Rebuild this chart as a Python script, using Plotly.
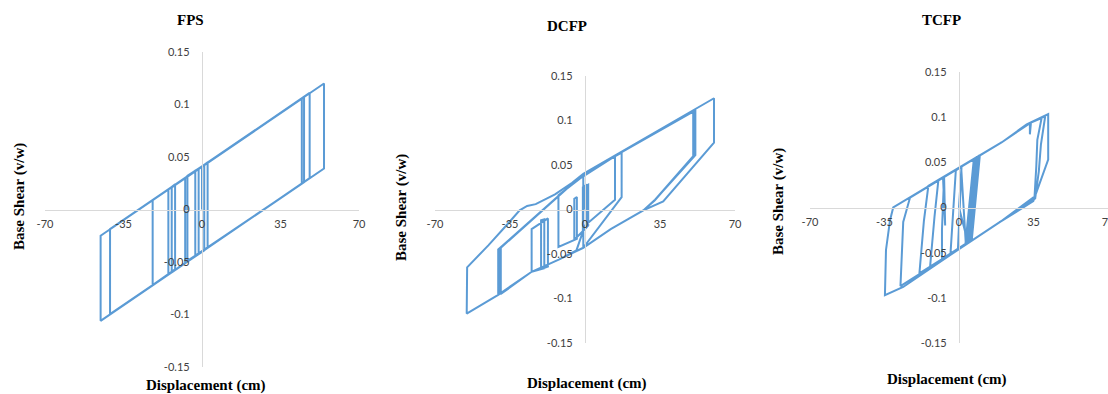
import plotly.graph_objects as go

# ---------------- data ----------------
x_ticks = [-70, -35, 0, 35, 70]
x_tick_text = ["-70", "-35", "0", "35", "70"]
y_ticks = [-0.15, -0.1, -0.05, 0, 0.05, 0.1, 0.15]
y_tick_text = ["-0.15", "-0.1", "-0.05", "0", "0.05", "0.1", "0.15"]

fps_x = [0, 0, 2.5, 2.5, -3, -3, 1, 1, -7.5, -7.5, -1.5, -1.5, -15, -15, -12, -12,
         -22, -22, 54.4, 54.4, -45.2, -45.2, 45.5, 45.5, -41, -41, 48, 48,
         -13.5, -13.5, 44.5, 44.5, -6.5, -6.5, 0, 0]
fps_y = [0, 0.041, 0.045, -0.036, -0.044, 0.037, 0.042, -0.039, -0.051, 0.030, 0.039, -0.042,
         -0.062, 0.019, 0.024, -0.057, -0.072, 0.009, 0.120, 0.039, -0.106, -0.025, 0.107, 0.026,
         -0.0995, -0.0185, 0.111, 0.030, -0.060, 0.021, 0.1055, 0.0245, -0.049, 0.032, 0.041, 0.0]

dcfp_x = [0, 0, 1.5, 1.5, -1.0, -1.0, 0.8, 0.8, -5.0, -5.0, -3.8, -3.8, -12.4, -12.4, -2.3,
          14.0, 14.0, 0.0, -4.0, -12.0, -24.9, -24.9, -17.3, -17.3, -20.5, -20.5, -19.0, -19.0,
          -24.9, -40.5, -40.5, -14.0, -0.8, 17.1, 17.1, -0.8, -12.0, -24.9, -40.0, -40.0, -0.8,
          51.5, 51.5, 32.7, 27.2, 12.0, -0.8, -12.0, -24.9, -40.5, -55.2, -55.0, -45.0, -36.0,
          -30.5, -27.0, -23.0, -14.0, -6.0, -0.8, 60.2, 60.2, 36.5, 27.2, 12.0, -0.8, -12.0,
          -24.9, -39.3, -39.3, -0.8, 51.0, 51.0, 32.5, 27.2, 12.0, -0.8, -0.8, 50.5, 50.5, 32.3, 27.2]
dcfp_y = [0, 0.026, 0.028, -0.018, -0.024, 0.025, 0.028, -0.020, -0.034, 0.012, 0.014, -0.033,
          -0.042, 0.016, 0.035, 0.060, 0.011, -0.018, -0.046, -0.056, -0.070, -0.022, -0.010,
          -0.064, -0.067, -0.012, -0.011, -0.066, -0.070, -0.096, -0.045, 0.012, 0.040, 0.064,
          0.014, -0.043, -0.056, -0.070, -0.095, -0.044, 0.040, 0.112, 0.061, 0.011, -0.001,
          -0.022, -0.043, -0.056, -0.070, -0.096, -0.117, -0.065, -0.040, -0.016, -0.001, 0.004,
          0.006, 0.017, 0.030, 0.040, 0.125, 0.075, 0.009, -0.001, -0.022, -0.043, -0.056,
          -0.070, -0.095, -0.043, 0.040, 0.111, 0.061, 0.010, -0.001, -0.022, -0.043, 0.040,
          0.110, 0.060, 0.010, -0.001]

tcfp_x = [0, 1.2, -0.5, 3.0, 7.0, 4.0, 9.0, 5.0, 8.0, 3.5, 9.8, 6.0, 7.5, 4.5, -8.0, -8.0,
          -7.0, -6.5, -7.5, 9.5, 5.5, -13.6, -11.5, -9.7, 8.5, 3.5, -18.6, -16.5, -14.4, 20.0,
          31.8, 33.3, 33.3, 33.8, 38.8, 36.8, 36.3, 35.5, 19.3, 0.0, -27.5, -26.2, -23.0, 20.0,
          31.8, 41.9, 41.9, 34.9, 19.3, 0.0, -26.2, -34.8, -34.3, -32.4, -30.9, 20.0, 31.8,
          40.5, 38.5, 37.5, 35.8, 19.3, 0.0, -4.0, -1.5, 1.0, 3.2, 9.2, 4.2, 0]
tcfp_y = [0, 0.046, -0.046, -0.041, 0.054, -0.039, 0.057, -0.038, 0.055, -0.040, 0.058, -0.036,
          0.055, -0.038, -0.057, -0.025, 0.034, -0.020, 0.033, 0.0575, -0.037, -0.066, -0.010,
          0.030, 0.056, -0.040, -0.073, -0.015, 0.024, 0.072, 0.091, 0.093, 0.081, 0.094, 0.099,
          0.075, 0.045, 0.012, -0.016, -0.046, -0.087, -0.016, 0.011, 0.072, 0.092, 0.1035,
          0.053, 0.007, -0.016, -0.046, -0.088, -0.097, -0.047, -0.014, 0.000, 0.072, 0.092,
          0.101, 0.070, 0.040, 0.010, -0.016, -0.046, -0.051, 0.041, 0.045, -0.040, 0.057,
          -0.039, 0]

titles = ["FPS", "DCFP", "TCFP"]
x_title = "Displacement (cm)"
y_title = "Base Shear (v/w)"

# ---------------- layout (pixel geometry) ----------------
W, H = 1108, 394


def fx(p):
    return p / W


def fy(p):
    return 1 - p / H


panels = [
    dict(x=fps_x, y=fps_y, xd=(45, 359), yd=(52, 367), title=(190, 20), xlab=(206, 385), ylab=(19, 197)),
    dict(x=dcfp_x, y=dcfp_y, xd=(435, 735), yd=(76, 343), title=(567, 26), xlab=(587, 383), ylab=(401, 208)),
    dict(x=tcfp_x, y=tcfp_y, xd=(810, 1108), yd=(72, 343), title=(941, 20), xlab=(947, 379), ylab=(778, 202)),
]

LINE = "#5B9BD5"
AXIS = "#D9D9D9"
tick_font = dict(family="Lato, 'Open Sans', sans-serif", size=11, color="#404040")
serif_bold = dict(family="'Liberation Serif', 'Times New Roman', serif", size=15, color="#000000")

fig = go.Figure()
annotations = []
layout_axes = {}

for i, p in enumerate(panels):
    sfx = "" if i == 0 else str(i + 1)
    fig.add_trace(go.Scatter(
        x=p["x"], y=p["y"], mode="lines",
        line=dict(color=LINE, width=2), showlegend=False, hoverinfo="skip",
        xaxis="x" + sfx, yaxis="y" + sfx,
    ))
    x0, x1 = p["xd"]
    y0, y1 = p["yd"]
    layout_axes["xaxis" + sfx] = dict(
        domain=[fx(x0), fx(x1)], range=[-70, 70], anchor="free",
        position=fy((y0 + y1) / 2),
        showline=True, linecolor=AXIS, linewidth=1.3, showgrid=False, zeroline=False,
        tickmode="array", tickvals=x_ticks, ticktext=x_tick_text,
        ticks="outside", ticklen=4, tickcolor="rgba(0,0,0,0)",
        tickfont=tick_font, ticklabeloverflow="allow", automargin=False, fixedrange=True,
    )
    layout_axes["yaxis" + sfx] = dict(
        domain=[fy(y1), fy(y0)], range=[-0.15, 0.15], anchor="free",
        position=fx((x0 + x1) / 2),
        showline=True, linecolor=AXIS, linewidth=1.3, showgrid=False, zeroline=False,
        tickmode="array", tickvals=y_ticks, ticktext=y_tick_text,
        ticks="outside", ticklen=10, tickcolor="rgba(0,0,0,0)",
        tickfont=tick_font, ticklabeloverflow="allow", automargin=False, fixedrange=True,
    )
    tx, ty = p["title"]
    annotations.append(dict(text="<b>%s</b>" % titles[i], x=fx(tx), y=fy(ty), xref="paper", yref="paper",
                            xanchor="center", yanchor="middle", showarrow=False, font=serif_bold))
    ax, ay = p["xlab"]
    annotations.append(dict(text="<b>%s</b>" % x_title, x=fx(ax), y=fy(ay), xref="paper", yref="paper",
                            xanchor="center", yanchor="middle", showarrow=False, font=serif_bold))
    lx, ly = p["ylab"]
    annotations.append(dict(text="<b>%s</b>" % y_title, x=fx(lx), y=fy(ly), xref="paper", yref="paper",
                            xanchor="center", yanchor="middle", showarrow=False, textangle=-90,
                            font=serif_bold))

fig.update_layout(
    width=W, height=H, template="none",
    margin=dict(l=0, r=0, t=0, b=0),
    paper_bgcolor="white", plot_bgcolor="white",
    annotations=annotations, showlegend=False,
    **layout_axes,
)

fig.write_html("out.html", config={"displayModeBar": False})
